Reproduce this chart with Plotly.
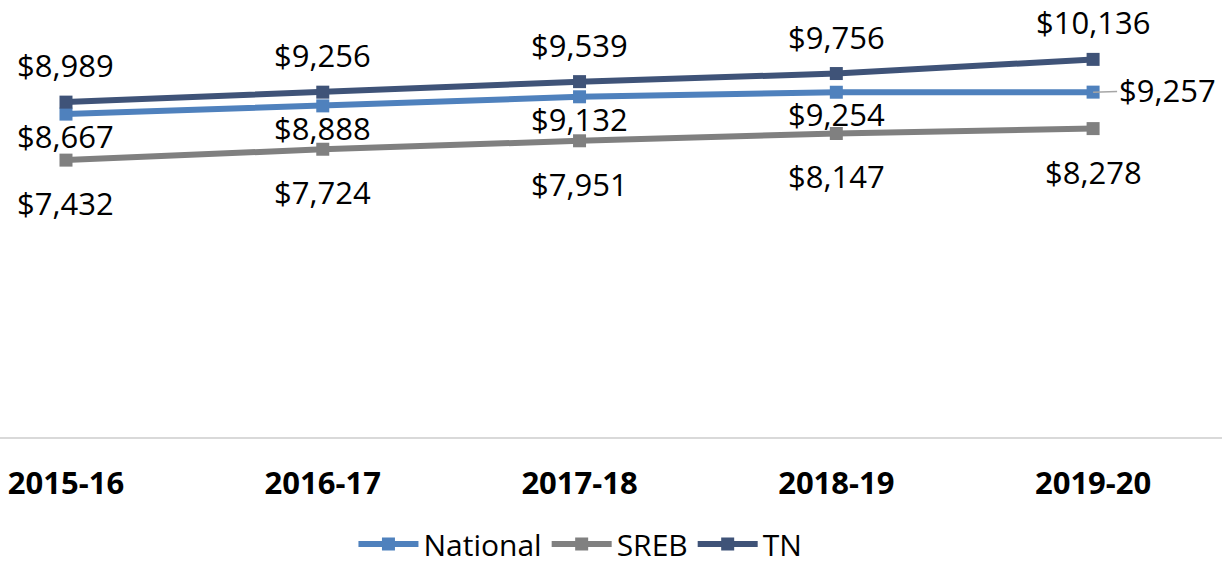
import plotly.graph_objects as go

years = ["2015-16", "2016-17", "2017-18", "2018-19", "2019-20"]
national = [8667, 8888, 9132, 9254, 9257]
sreb = [7432, 7724, 7951, 8147, 8278]
tn = [8989, 9256, 9539, 9756, 10136]

colors = {"National": "#4f81bd", "SREB": "#808080", "TN": "#3f5378"}
FONT = "Open Sans"
FS = 31

fig = go.Figure()
for name, vals in [("National", national), ("SREB", sreb), ("TN", tn)]:
    fig.add_trace(go.Scatter(
        x=list(range(len(years))), y=vals, name=name, mode="lines+markers",
        line=dict(color=colors[name], width=6),
        marker=dict(symbol="square", size=13, color=colors[name]),
        hoverinfo="skip", cliponaxis=False,
    ))

def fmt(v):
    return "${:,}".format(v)

ann = []
for i, v in enumerate(tn):
    ann.append(dict(x=i, y=v, text=fmt(v), showarrow=False, yshift=37))
for i, v in enumerate(sreb):
    ann.append(dict(x=i, y=v, text=fmt(v), showarrow=False, yshift=-43))
for i, v in enumerate(national):
    if i < len(national) - 1:
        ann.append(dict(x=i, y=v, text=fmt(v), showarrow=False, yshift=-22))
    else:
        ann.append(dict(x=i, y=v, text=fmt(v), showarrow=True, arrowhead=0,
                        arrowwidth=1.5, arrowcolor="#a6a6a6", ax=74, ay=-2,
                        standoff=0))
for a in ann:
    a["font"] = dict(family=FONT, size=FS, color="#000000")
    a["xref"] = "x"
    a["yref"] = "y"
fig.update_layout(annotations=ann)

fig.update_layout(
    width=1228, height=567,
    margin=dict(l=0, r=6, t=0, b=130, autoexpand=False),
    paper_bgcolor="white", plot_bgcolor="white",
    font=dict(family=FONT, color="#000000"),
    xaxis=dict(
        tickmode="array", tickvals=list(range(len(years))),
        ticktext=["<b>%s</b>" % y for y in years],
        range=[-0.257, 4.502], showgrid=False, zeroline=False,
        showline=True, linecolor="#d9d9d9", linewidth=2,
        ticks="", tickfont=dict(family=FONT, size=FS, color="#000000"),
        ticklabelstandoff=18, automargin=False,
    ),
    yaxis=dict(range=[0, 11730], visible=False, showgrid=False, zeroline=False,
               automargin=False),
    legend=dict(orientation="h", x=0.475, xanchor="center", y=-0.245,
                yanchor="middle", font=dict(family=FONT, size=30, color="#000000"),
                itemwidth=60, tracegroupgap=0),
    showlegend=True,
)

fig.write_html("out.html", config={"displayModeBar": False},
               post_script="document.body.style.margin='0';document.body.style.overflow='hidden';")
